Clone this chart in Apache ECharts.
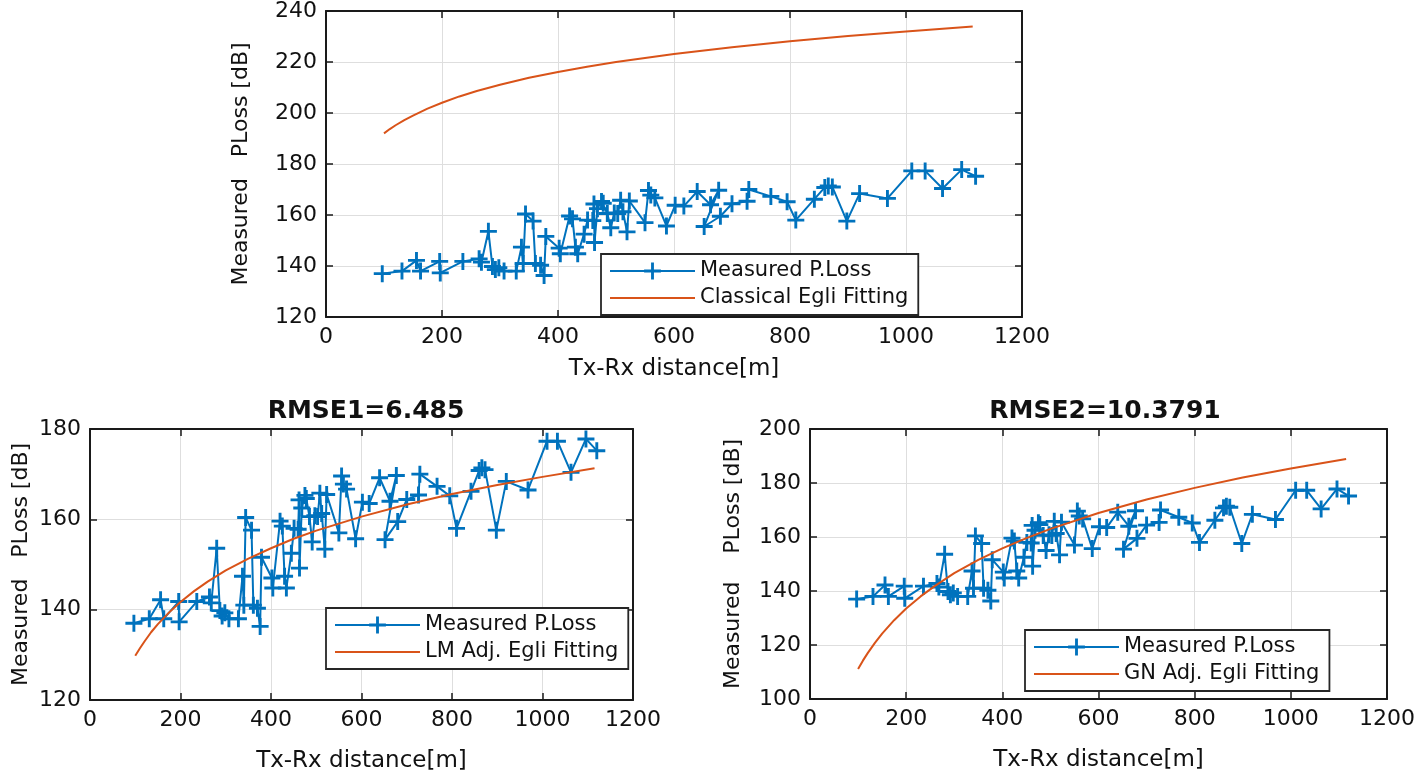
<!DOCTYPE html>
<html>
<head>
<meta charset="utf-8">
<script src="https://cdn.jsdelivr.net/npm/echarts@6/dist/echarts.min.js"></script>
<style>
html,body{margin:0;padding:0;background:#fff;}
#chart{width:1418px;height:776px;}
</style>
</head>
<body>
<div id="chart"></div>
<script>
// Measured path loss (same data in all three panels)
const measuredDist = [97,131,156,163,196,197,236,264,268,280,287,292,298,307,328,337,340,344,357,361,370,376,379,402,404,420,425,430,434,445,451,460,462,463,468,475,478,485,491,497,503,508,512,519,523,550,556,560,567,587,602,617,640,663,677,652,680,700,726,729,767,795,810,842,860,866,873,898,920,968,1010,1033,1063,1096,1120];
const measuredLoss = [137.0,138.0,142.2,138.0,141.8,137.3,141.8,142.8,141.5,153.6,139.8,138.6,139.3,138.0,138.0,147.4,141.0,160.4,157.6,141.0,140.3,136.3,151.6,147.0,144.8,159.6,158.5,147.4,144.8,152.5,158.0,157.8,164.3,149.2,162.5,165.3,164.6,160.6,155.0,160.8,160.6,165.8,161.3,153.4,165.5,157.0,169.6,167.8,166.7,155.7,163.8,163.5,169.2,164.0,169.7,155.5,159.5,164.4,165.4,170.0,167.3,165.2,158.0,166.2,170.8,171.4,171.0,157.6,168.4,166.5,177.3,177.3,170.4,177.8,175.2];

// Fitted curves
const fitDist = [100,110,120,135,150,175,200,230,260,300,350,400,450,500,600,700,800,900,1000,1115];
const classicalLoss = [192.0,193.7,195.2,197.2,199.0,201.7,204.0,206.5,208.6,211.1,213.8,216.1,218.1,220.0,223.1,225.8,228.1,230.2,232.0,233.9];
const lmLoss = [129.8,131.4,132.9,135.0,136.8,139.4,141.7,144.1,146.2,148.7,151.3,153.6,155.7,157.5,160.6,163.3,165.6,167.6,169.4,171.3];
const gnLoss = [111.1,114.2,117.0,120.8,124.2,129.2,133.5,138.0,141.9,146.6,151.5,155.8,159.6,163.0,168.9,173.9,178.2,182.0,185.4,188.9];

const xTicks = [0,200,400,600,800,1000,1200];
const titles = ['RMSE1=6.485','RMSE2=10.3791'];
const yNames = ['Measured   PLoss [dB]','Measured   PLoss [dB]','Measured    PLoss [dB]'];
const xName = 'Tx-Rx distance[m]';

const FONT = 'DejaVu Sans';
const BLUE = '#0072BD';
const ORANGE = '#D95319';
const PLUS = 'path://M-1.7,-10 L1.7,-10 L1.7,-1.7 L10,-1.7 L10,1.7 L1.7,1.7 L1.7,10 L-1.7,10 L-1.7,1.7 L-10,1.7 L-10,-1.7 L-1.7,-1.7 Z';

const grids = [
  {left:326, top:10, width:696, height:307},
  {left:90, top:429, width:543, height:271},
  {left:810, top:429, width:580, height:270}
];
const yRanges = [[120,240,20],[120,180,20],[100,200,20]];
const yNameGaps = [74,58,66];
const xNameGaps = [41,50,50];

const xAxes = [], yAxes = [];
const edge = {show:true, onZero:false, lineStyle:{color:'#1a1a1a', width:2}};
const tick = {show:true, inside:true, length:7, lineStyle:{color:'#1a1a1a', width:1.5}};
grids.forEach((g,i)=>{
  xAxes.push({
    type:'value', gridIndex:i, min:xTicks[0], max:xTicks[xTicks.length-1], interval:200,
    position:'bottom',
    name:xName, nameLocation:'middle', nameGap:xNameGaps[i],
    nameTextStyle:{fontFamily:FONT, fontSize:23, color:'#111'},
    axisLine:edge, axisTick:tick,
    axisLabel:{fontFamily:FONT, fontSize:22, color:'#111', margin:9, formatter:v=>String(v)},
    splitLine:{show:true, lineStyle:{color:'#dedede', width:1}}
  });
  xAxes.push({
    type:'value', gridIndex:i, min:xTicks[0], max:xTicks[xTicks.length-1], interval:200,
    position:'top', axisLine:edge, axisTick:tick,
    axisLabel:{show:false}, splitLine:{show:false}
  });
  const r = yRanges[i];
  yAxes.push({
    type:'value', gridIndex:i, min:r[0], max:r[1], interval:r[2], position:'left',
    name:yNames[i], nameLocation:'middle', nameGap:yNameGaps[i], nameRotate:90,
    nameTextStyle:{fontFamily:FONT, fontSize:22, color:'#111'},
    axisLine:edge, axisTick:tick,
    axisLabel:{fontFamily:FONT, fontSize:22, color:'#111', margin:9, formatter:v=>String(v)},
    splitLine:{show:true, lineStyle:{color:'#dedede', width:1}}
  });
  yAxes.push({
    type:'value', gridIndex:i, min:r[0], max:r[1], interval:r[2], position:'right',
    axisLine:edge, axisTick:tick,
    axisLabel:{show:false}, splitLine:{show:false}
  });
});

const pairs = (xs, ys) => xs.map((x,k)=>[x, ys[k]]);
const measuredData = pairs(measuredDist, measuredLoss);
const fits = [
  {name:'Classical Egli Fitting', data:pairs(fitDist, classicalLoss)},
  {name:'LM Adj. Egli Fitting', data:pairs(fitDist, lmLoss)},
  {name:'GN Adj. Egli Fitting', data:pairs(fitDist, gnLoss)}
];

const series = [];
grids.forEach((g,i)=>{
  series.push({
    name:'Measured P.Loss', type:'line', xAxisIndex:2*i, yAxisIndex:2*i,
    data:measuredData, symbol:PLUS, symbolSize:17, showAllSymbol:true,
    lineStyle:{color:BLUE, width:2}, itemStyle:{color:BLUE},
    emphasis:{disabled:true}, z:2
  });
  series.push({
    name:fits[i].name, type:'line', xAxisIndex:2*i, yAxisIndex:2*i,
    data:fits[i].data, symbol:'circle', showSymbol:false, smooth:false,
    lineStyle:{color:ORANGE, width:2}, itemStyle:{color:'rgba(0,0,0,0)'},
    emphasis:{disabled:true}, z:3
  });
});

const legendPos = [{left:601, top:254},{left:326, top:608},{left:1025, top:630}];
const legends = legendPos.map((p,i)=>({
  left:p.left, top:p.top, orient:'vertical',
  data:['Measured P.Loss', fits[i].name],
  itemWidth:85, itemHeight:21, itemGap:5,
  padding:[6,10,6,8],
  borderColor:'#262626', borderWidth:1.8, backgroundColor:'#fff',
  textStyle:{fontFamily:FONT, fontSize:21, color:'#111', lineHeight:22},
  selectedMode:false
}));

const option = {
  animation:false,
  backgroundColor:'#fff',
  title:[
    {text:titles[0], left:361, top:394, textAlign:'center', textStyle:{fontFamily:FONT, fontSize:25, fontWeight:'bold', color:'#111'}},
    {text:titles[1], left:1100, top:394, textAlign:'center', textStyle:{fontFamily:FONT, fontSize:25, fontWeight:'bold', color:'#111'}}
  ],
  grid:grids,
  xAxis:xAxes, yAxis:yAxes,
  legend:legends,
  series:series
};

const chart = echarts.init(document.getElementById('chart'), null, {renderer:'canvas'});
chart.setOption(option);
</script>
</body>
</html>
